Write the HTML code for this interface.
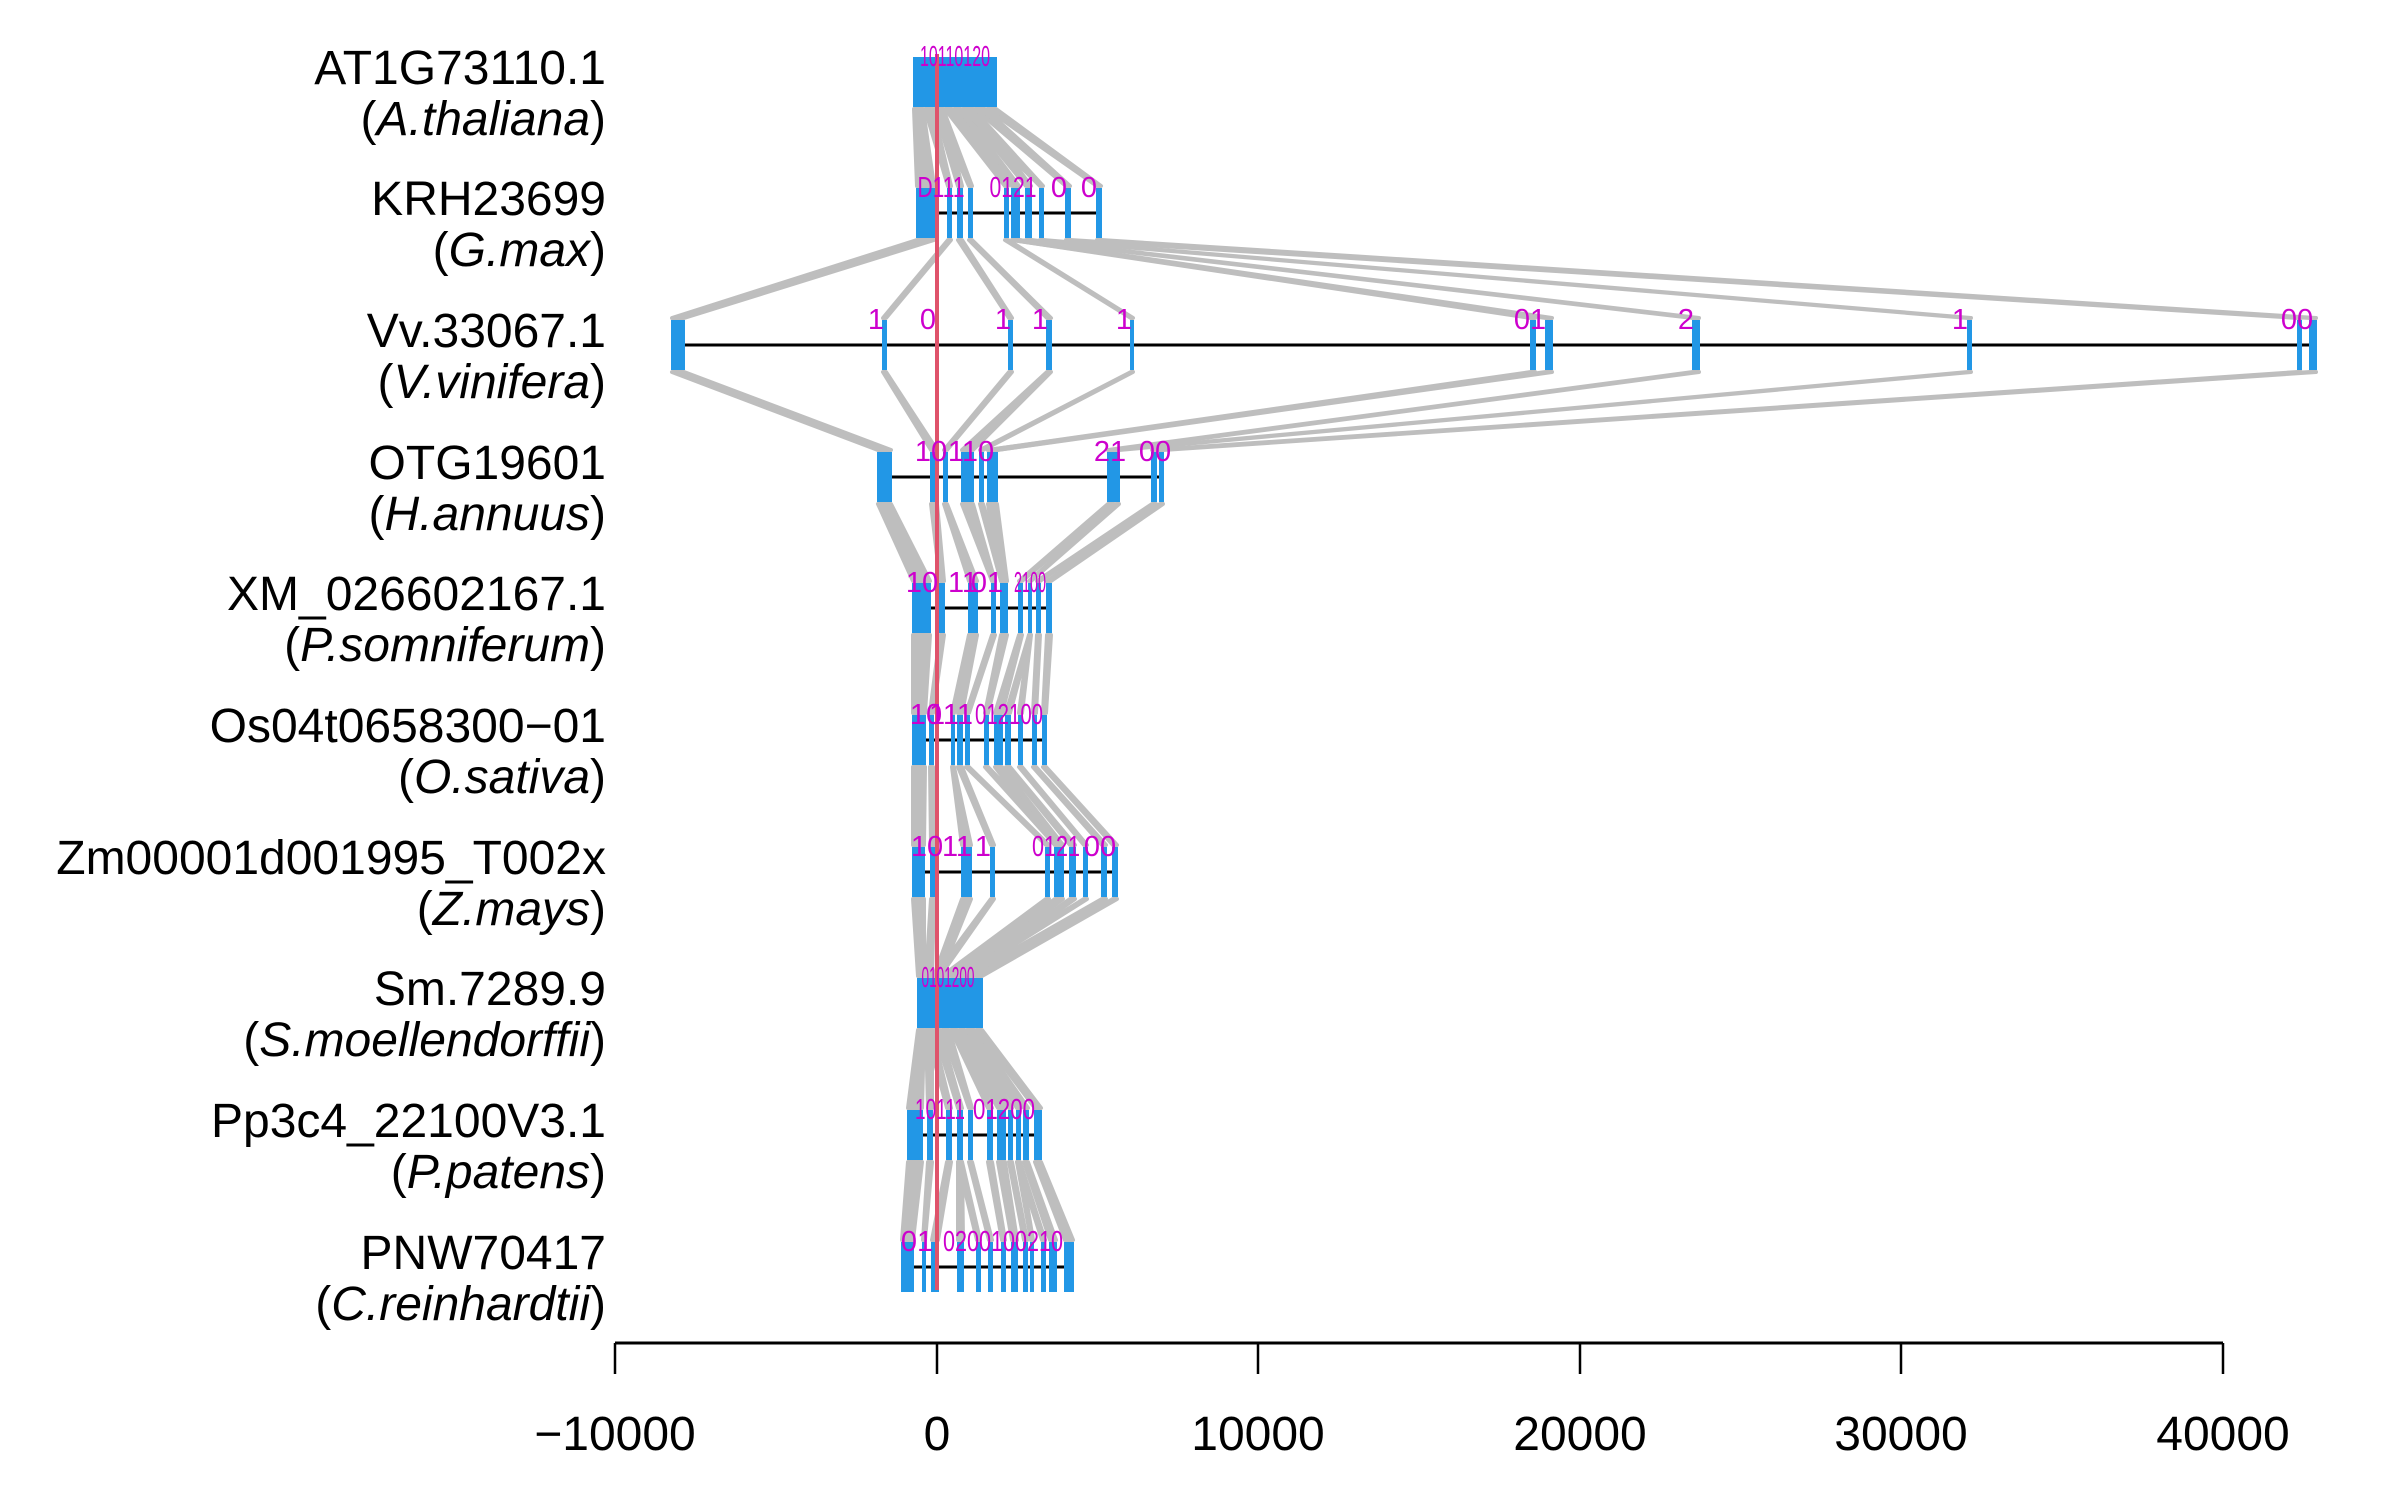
<!DOCTYPE html>
<html><head><meta charset="utf-8"><style>
html,body{margin:0;padding:0;background:#fff;}
svg{display:block;}
text{font-family:"Liberation Sans",sans-serif;}
.lab{font-size:48px;fill:#000;text-anchor:end;}
.tk{font-size:48px;fill:#000;text-anchor:middle;}
.n{font-size:29px;fill:#CD00CD;text-anchor:middle;}
</style></head><body>
<svg id="s" width="2400" height="1500" xmlns="http://www.w3.org/2000/svg">
<g id="conn"></g><g id="lines"></g><g id="ex"></g>
<line x1="937" y1="54" x2="937" y2="1290" stroke="#DF536B" stroke-width="4"/>
<g id="labs">
<text class="lab" x="606" y="84">AT1G73110.1</text>
<text class="lab" x="606" y="135">(<tspan font-style="italic">A.thaliana</tspan>)</text>
<text class="lab" x="606" y="215">KRH23699</text>
<text class="lab" x="606" y="266">(<tspan font-style="italic">G.max</tspan>)</text>
<text class="lab" x="606" y="347">Vv.33067.1</text>
<text class="lab" x="606" y="398">(<tspan font-style="italic">V.vinifera</tspan>)</text>
<text class="lab" x="606" y="479">OTG19601</text>
<text class="lab" x="606" y="530">(<tspan font-style="italic">H.annuus</tspan>)</text>
<text class="lab" x="606" y="610">XM_026602167.1</text>
<text class="lab" x="606" y="661">(<tspan font-style="italic">P.somniferum</tspan>)</text>
<text class="lab" x="606" y="742">Os04t0658300−01</text>
<text class="lab" x="606" y="793">(<tspan font-style="italic">O.sativa</tspan>)</text>
<text class="lab" x="606" y="874">Zm00001d001995_T002x</text>
<text class="lab" x="606" y="925">(<tspan font-style="italic">Z.mays</tspan>)</text>
<text class="lab" x="606" y="1005">Sm.7289.9</text>
<text class="lab" x="606" y="1056">(<tspan font-style="italic">S.moellendorffii</tspan>)</text>
<text class="lab" x="606" y="1137">Pp3c4_22100V3.1</text>
<text class="lab" x="606" y="1188">(<tspan font-style="italic">P.patens</tspan>)</text>
<text class="lab" x="606" y="1269">PNW70417</text>
<text class="lab" x="606" y="1320">(<tspan font-style="italic">C.reinhardtii</tspan>)</text>
</g>
<g>
<text class="n" x="955" y="66" textLength="70" lengthAdjust="spacingAndGlyphs">10110120</text>
<text class="n" x="941" y="197" textLength="47" lengthAdjust="spacingAndGlyphs">D111</text>
<text class="n" x="1013" y="197" textLength="47" lengthAdjust="spacingAndGlyphs">0121</text>
<text class="n" x="1059" y="197">0</text>
<text class="n" x="1089" y="197">0</text>
<text class="n" x="876" y="329">1</text>
<text class="n" x="928" y="329">0</text>
<text class="n" x="1003" y="329">1</text>
<text class="n" x="1040" y="329">1</text>
<text class="n" x="1124" y="329">1</text>
<text class="n" x="1530" y="329">01</text>
<text class="n" x="1686" y="329">2</text>
<text class="n" x="1960" y="329">1</text>
<text class="n" x="2297" y="329">00</text>
<text class="n" x="931" y="461">10</text>
<text class="n" x="971" y="461">110</text>
<text class="n" x="1110" y="461">21</text>
<text class="n" x="1155" y="461">00</text>
<text class="n" x="922" y="592">10</text>
<text class="n" x="963" y="592">11</text>
<text class="n" x="987" y="592">01</text>
<text class="n" x="1030" y="592" textLength="32" lengthAdjust="spacingAndGlyphs">2100</text>
<text class="n" x="926" y="724">10</text>
<text class="n" x="951" y="724">111</text>
<text class="n" x="1009" y="724" textLength="68" lengthAdjust="spacingAndGlyphs">012100</text>
<text class="n" x="927" y="856">10</text>
<text class="n" x="957" y="856">11</text>
<text class="n" x="983" y="856">1</text>
<text class="n" x="1056" y="856" textLength="48" lengthAdjust="spacingAndGlyphs">0121</text>
<text class="n" x="1100" y="856">00</text>
<text class="n" x="948" y="987" textLength="53" lengthAdjust="spacingAndGlyphs">0101200</text>
<text class="n" x="940" y="1119" textLength="50" lengthAdjust="spacingAndGlyphs">10111</text>
<text class="n" x="1004" y="1119" textLength="62" lengthAdjust="spacingAndGlyphs">01200</text>
<text class="n" x="917" y="1251">01</text>
<text class="n" x="1003" y="1251" textLength="120" lengthAdjust="spacingAndGlyphs">0200100210</text>
</g>
<line x1="615" y1="1343" x2="2223" y2="1343" stroke="#000" stroke-width="3"/>
<g stroke="#000" stroke-width="2.5">
<line x1="615" y1="1343" x2="615" y2="1374"/><line x1="937" y1="1343" x2="937" y2="1374"/>
<line x1="1258" y1="1343" x2="1258" y2="1374"/><line x1="1580" y1="1343" x2="1580" y2="1374"/>
<line x1="1901" y1="1343" x2="1901" y2="1374"/><line x1="2223" y1="1343" x2="2223" y2="1374"/>
</g>
<text class="tk" x="615" y="1450">−10000</text><text class="tk" x="937" y="1450">0</text>
<text class="tk" x="1258" y="1450">10000</text><text class="tk" x="1580" y="1450">20000</text>
<text class="tk" x="1901" y="1450">30000</text><text class="tk" x="2223" y="1450">40000</text>
</svg>
<script>
var NS="http://www.w3.org/2000/svg";
var Y=[82,213,345,477,608,740,872,1003,1135,1267];
var R=[
[[913,924],[924,934],[934,944],[944,953],[953,962],[962,974],[974,986],[986,997]],
[[916,935],[947,952],[957,963],[968,973],[1004,1009],[1011,1020],[1025,1032],[1039,1044],[1065,1071],[1096,1102]],
[[671,685],[882,887],[1008,1013],[1046,1052],[1130,1134],[1530,1536],[1545,1553],[1692,1700],[1967,1972],[2297,2302],[2309,2317]],
[[877,892],[930,938],[943,948],[961,974],[979,984],[987,998],[1107,1115],[1115,1120],[1151,1157],[1159,1164]],
[[912,931],[939,945],[968,978],[991,996],[1000,1008],[1018,1023],[1028,1032],[1036,1041],[1046,1052]],
[[912,926],[929,934],[951,955],[957,963],[965,970],[984,989],[994,1003],[1005,1011],[1018,1023],[1032,1037],[1042,1047]],
[[912,925],[930,935],[961,972],[990,995],[1045,1050],[1054,1064],[1069,1076],[1083,1088],[1101,1107],[1112,1118]],
[[917,925],[925,933],[933,941],[941,950],[950,958],[958,966],[966,975],[975,983]],
[[907,923],[927,933],[946,952],[957,963],[968,973],[987,993],[997,1006],[1008,1013],[1016,1021],[1023,1029],[1034,1042]],
[[901,914],[922,926],[931,939],[957,964],[976,981],[988,993],[1001,1006],[1011,1018],[1023,1028],[1030,1034],[1041,1046],[1049,1057],[1064,1074]]
];
var H=25;
function el(n,a,p){var e=document.createElementNS(NS,n);for(var k in a)e.setAttribute(k,a[k]);document.getElementById(p).appendChild(e);}
for(var i=0;i<R.length;i++){
 var r=R[i],y=Y[i];
 if(i!=0&&i!=7) el("line",{x1:r[0][1],y1:y,x2:r[r.length-1][0],y2:y,stroke:"#000","stroke-width":3},"lines");
 r.forEach(function(e){el("rect",{x:e[0],y:y-H,width:e[1]-e[0],height:2*H,fill:"#2297E6"},"ex");});
 if(i<R.length-1){
  var a=r,b=R[i+1],n=a.length,m=b.length,N=Math.max(n,m);
  for(var j=0;j<N;j++){
   var ia=n>=m?j:Math.round(j*(n-1)/(m-1)), ib=m>=n?j:Math.round(j*(m-1)/(n-1));
   var A=a[ia],B=b[ib],y1=y+H+2,y2=Y[i+1]-H-2;
   el("polygon",{points:(A[0]+1)+","+y1+" "+(A[1]-1)+","+y1+" "+(B[1]-1)+","+y2+" "+(B[0]+1)+","+y2,fill:"#BEBEBE",stroke:"#BEBEBE","stroke-width":4,"stroke-linejoin":"round"},"conn");
  }
 }
}
</script>
</body></html>
